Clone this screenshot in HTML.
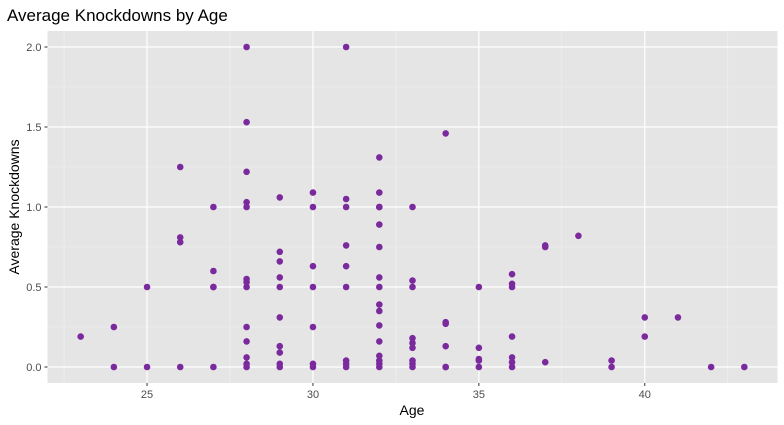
<!DOCTYPE html>
<html><head><meta charset="utf-8"><style>
body{margin:0;background:#fff;}
svg{display:block;font-family:"Liberation Sans",sans-serif;}
</style></head><body>
<svg id="chart" width="784" height="425">
<text x="7" y="21" font-size="17" fill="#000">Average Knockdowns by Age</text>
<rect x="47.5" y="31" width="730" height="352" fill="#e5e5e5"/>
<g id="grid"></g>
<g id="axes"></g>
<g id="points"></g>
<text x="412" y="415" font-size="14" text-anchor="middle" fill="#000">Age</text>
<text transform="translate(19,207) rotate(-90)" font-size="14" text-anchor="middle" fill="#000">Average Knockdowns</text>
</svg>
<script>
const ages = [23,24,24,25,25,26,26,26,26,27,27,27,27,27,
28,28,28,28,28,28,28,28,28,28,28,28,28,
29,29,29,29,29,29,29,29,29,29,
30,30,30,30,30,30,30,
31,31,31,31,31,31,31,31,31,
32,32,32,32,32,32,32,32,32,32,32,32,32,32,32,32,
33,33,33,33,33,33,33,33,33,
34,34,34,34,34,34,
35,35,35,35,35,
36,36,36,36,36,36,36,
37,37,37,38,39,39,40,40,41,42,43];
const knockdowns = [0.19,0.25,0,0.5,0,1.25,0.81,0.78,0,1.0,0.6,0.5,0.5,0,
2.0,1.53,1.22,1.03,1.0,0.55,0.53,0.5,0.25,0.16,0.06,0.02,0,
1.06,0.72,0.66,0.56,0.5,0.31,0.13,0.09,0.02,0,
1.09,1.0,0.63,0.5,0.25,0.02,0,
2.0,1.05,1.0,0.76,0.63,0.5,0.04,0.02,0,
1.31,1.09,1.0,1.0,0.89,0.75,0.56,0.5,0.39,0.35,0.26,0.16,0.07,0.04,0.02,0,
1.0,0.54,0.5,0.18,0.15,0.12,0.04,0.02,0,
1.46,0.28,0.27,0.13,0,0,
0.5,0.12,0.05,0.04,0,
0.58,0.52,0.5,0.19,0.06,0.03,0,
0.76,0.75,0.03,0.82,0.04,0,0.31,0.19,0.31,0,0];
const xTicks = [25,30,35,40];
const yTicks = [0,0.5,1.0,1.5,2.0];
const yTickLabels = ["0.0","0.5","1.0","1.5","2.0"];

const X0=47.5,X1=777.5,Y0=383,Y1=31;
const xMin=22,xMax=44,yMin=-0.1,yMax=2.1;
const sx=v=>X0+(v-xMin)/(xMax-xMin)*(X1-X0);
const sy=v=>Y0-(v-yMin)/(yMax-yMin)*(Y0-Y1);
const NS="http://www.w3.org/2000/svg";
function mk(tag,attrs,parent){const e=document.createElementNS(NS,tag);for(const k in attrs)e.setAttribute(k,attrs[k]);parent.appendChild(e);return e;}
const grid=document.getElementById('grid'),axes=document.getElementById('axes'),pts=document.getElementById('points');
// minor grid
for(let v=22.5;v<=44;v+=5){const l=mk('line',{x1:sx(v),x2:sx(v),y1:Y1,y2:Y0,stroke:'#f2f2f2','stroke-width':0.6},grid);

}
for(let v=0.25;v<=2;v+=0.5){const l=mk('line',{x1:X0,x2:X1,y1:sy(v),y2:sy(v),stroke:'#f2f2f2','stroke-width':0.6},grid);

}
xTicks.forEach(v=>{
 const l=mk('line',{x1:sx(v),x2:sx(v),y1:Y1,y2:Y0,stroke:'#fff','stroke-width':1.2},grid);
 
 
 const t=mk('line',{x1:sx(v),x2:sx(v),y1:Y0,y2:Y0+3,stroke:'#333','stroke-width':1},axes);
 
 
 const tx=mk('text',{x:sx(v),y:Y0+15,'font-size':11,'text-anchor':'middle',fill:'#4d4d4d'},axes);
 tx.textContent=v;
 
 
});
yTicks.forEach((v,i)=>{
 const l=mk('line',{x1:X0,x2:X1,y1:sy(v),y2:sy(v),stroke:'#fff','stroke-width':1.2},grid);
 
 
 const t=mk('line',{x1:X0-3,x2:X0,y1:sy(v),y2:sy(v),stroke:'#333','stroke-width':1},axes);
 
 
 const tx=mk('text',{x:X0-6,y:sy(v)+4,'font-size':11,'text-anchor':'end',fill:'#4d4d4d'},axes);
 tx.textContent=yTickLabels[i];
 
 
});
ages.forEach((a,i)=>{
 const c=mk('circle',{cx:sx(a),cy:sy(knockdowns[i]),r:3.3,fill:'#7b2a9e'},pts);
 
 
});
</script>
</body></html>
